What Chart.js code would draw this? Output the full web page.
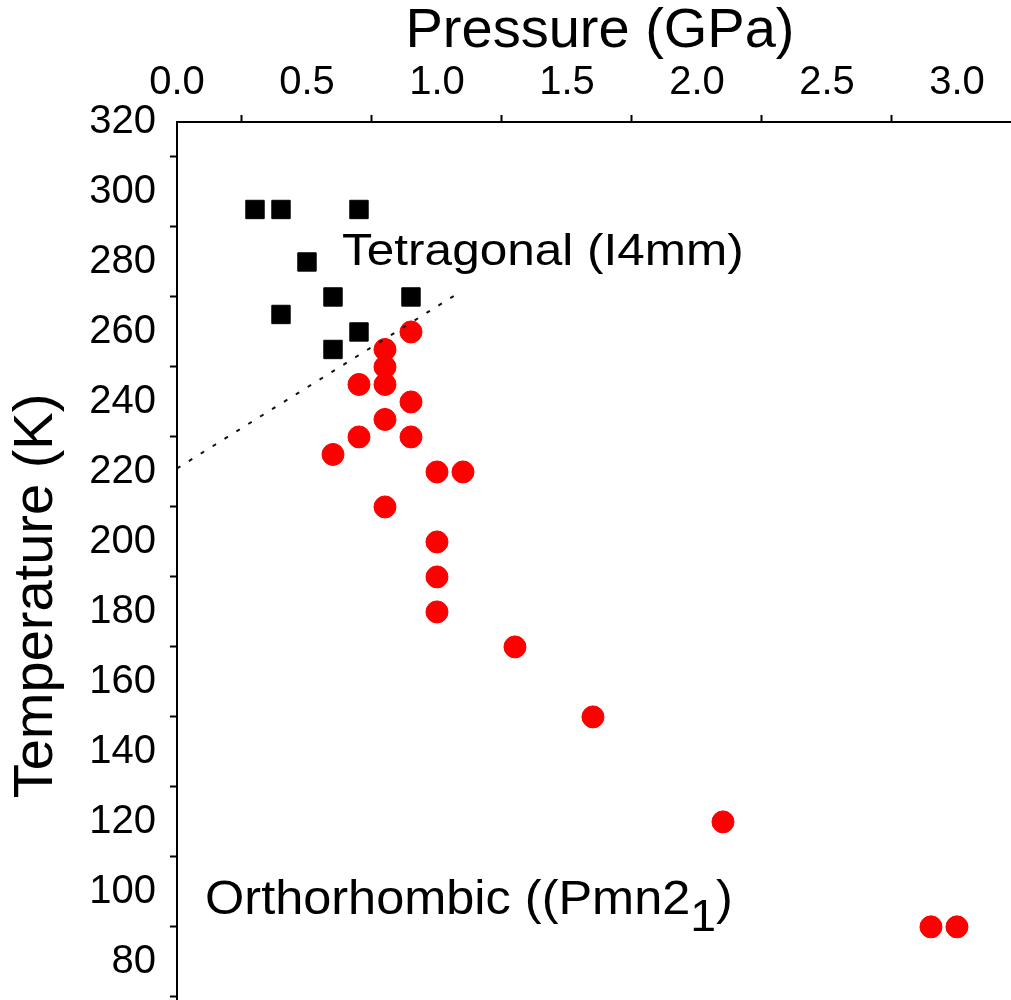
<!DOCTYPE html>
<html>
<head>
<meta charset="utf-8">
<title>Pressure–temperature phase diagram</title>
<script src="https://cdn.jsdelivr.net/npm/chart.js@4.4.1/dist/chart.umd.min.js"></script>
<style>
  html, body { margin: 0; padding: 0; width: 1011px; height: 1000px; overflow: hidden; background: #fff; }
  #wrap { position: relative; width: 1023px; height: 1070px; }
  canvas { display: block; }
</style>
</head>
<body>
<div id="wrap"><canvas id="c" width="1023" height="1070"></canvas></div>
<script>
// Tetragonal (I4mm) points: pressure (GPa) and temperature (K)
const tetragonalP = [0.3, 0.4, 0.7, 0.5, 0.6, 0.9, 0.4, 0.7, 0.6];
const tetragonalT = [295, 295, 295, 280, 270, 270, 265, 260, 255];

// Orthorhombic (Pmn2_1) points
const orthoP = [0.9, 0.8, 0.8, 0.8, 0.7, 0.9, 0.8, 0.7, 0.9, 0.6, 1.0, 1.1, 0.8, 1.0, 1.0, 1.0, 1.3, 1.6, 2.1, 2.9, 3.0];
const orthoT = [260, 255, 250, 245, 245, 240, 235, 230, 230, 225, 220, 220, 210, 200, 190, 180, 170, 150, 120, 90, 90];

// Estimated phase boundary (dotted line)
const boundaryP = [0.0, 1.08];
const boundaryT = [221, 271];

// Axis ranges and tick steps
const pressureRange = [0, 3.254];
const temperatureRange = [49.1, 320];
const pressureStep = 0.5;
const temperatureStep = 20;

const FONT = "'Liberation Sans', Arial, Helvetica, sans-serif";

const toPoints = (xs, ys) => xs.map((x, i) => ({ x: x, y: ys[i] }));

// Phase names placed at data coordinates
const phaseLabels = [
  { parts: [{ text: 'Tetragonal (I4mm)' }], p: 0.635, t: 279.1, size: 45, stretch: 1.1 },
  { parts: [{ text: 'Orthorhombic ((Pmn2' }, { text: '1', sub: true }, { text: ')' }], p: 0.108, t: 93.7, size: 49, stretch: 1.03 }
];

const phaseLabelPlugin = {
  id: 'phaseLabels',
  afterDatasetsDraw(chart) {
    const ctx = chart.ctx;
    const xs = chart.scales.x, ys = chart.scales.y;
    ctx.save();
    ctx.fillStyle = '#000';
    ctx.textBaseline = 'alphabetic';
    ctx.textAlign = 'left';
    phaseLabels.forEach(lab => {
      let x = xs.getPixelForValue(lab.p);
      const y = ys.getPixelForValue(lab.t);
      lab.parts.forEach(part => {
        const fs = part.sub ? lab.size * 0.92 : lab.size;
        ctx.font = fs + 'px ' + FONT;
        const dy = part.sub ? 17 : 0;
        ctx.save();
        ctx.translate(x, y + dy);
        ctx.scale(lab.stretch, 1);
        ctx.fillText(part.text, 0, 0);
        ctx.restore();
        x += ctx.measureText(part.text).width * lab.stretch;
      });
    });
    ctx.restore();
  }
};

const axisGrid = {
  drawOnChartArea: false,
  drawTicks: true,
  tickLength: 7,
  tickWidth: 2,
  tickColor: '#000',
  offset: true
};
const axisBorder = { display: true, color: '#000', width: 2 };

new Chart(document.getElementById('c'), {
  type: 'scatter',
  data: {
    datasets: [
      {
        label: 'boundary',
        data: toPoints(boundaryP, boundaryT),
        showLine: true,
        borderColor: '#111',
        borderWidth: 2,
        borderDash: [4, 10],
        pointRadius: 0,
        fill: false
      },
      {
        label: 'Tetragonal (I4mm)',
        data: toPoints(tetragonalP, tetragonalT),
        pointStyle: 'rect',
        pointRadius: 13,
        borderWidth: 1,
        backgroundColor: '#000',
        borderColor: '#000'
      },
      {
        label: 'Orthorhombic (Pmn21)',
        data: toPoints(orthoP, orthoT),
        pointStyle: 'circle',
        pointRadius: 11,
        borderWidth: 1,
        backgroundColor: '#ff0000',
        borderColor: '#ff0000'
      }
    ]
  },
  options: {
    responsive: false,
    animation: false,
    events: [],
    layout: { padding: 0, autoPadding: false },
    plugins: { legend: { display: false }, tooltip: { enabled: false } },
    scales: {
      x: {
        type: 'linear',
        position: 'top',
        min: pressureRange[0],
        max: pressureRange[1],
        ticks: {
          stepSize: pressureStep,
          includeBounds: false,
          padding: 8,
          color: '#000',
          font: { family: FONT, size: 40 },
          maxRotation: 0,
          callback: v => Number(v).toFixed(1)
        },
        grid: axisGrid,
        border: axisBorder,
        title: {
          display: true,
          text: 'Pressure (GPa)',
          color: '#000',
          font: { family: FONT, size: 56, lineHeight: 1 },
          padding: { top: 4, bottom: 0 }
        },
        afterFit(scale) {
          scale.height = 122;
          scale.paddingLeft = 0;
          scale.paddingRight = 0;
        }
      },
      y: {
        type: 'linear',
        position: 'left',
        min: temperatureRange[0],
        max: temperatureRange[1],
        ticks: {
          stepSize: temperatureStep,
          includeBounds: false,
          padding: 14,
          color: '#000',
          font: { family: FONT, size: 40 },
          callback: v => String(Math.round(v))
        },
        grid: axisGrid,
        border: axisBorder,
        title: {
          display: true,
          text: 'Temperature (K)',
          color: '#000',
          font: { family: FONT, size: 56, lineHeight: 1 },
          padding: { top: 9, bottom: 0 }
        },
        afterFit(scale) {
          scale.width = 177;
          scale.paddingTop = 0;
          scale.paddingBottom = 0;
        }
      }
    }
  },
  plugins: [phaseLabelPlugin]
});
</script>
</body>
</html>
